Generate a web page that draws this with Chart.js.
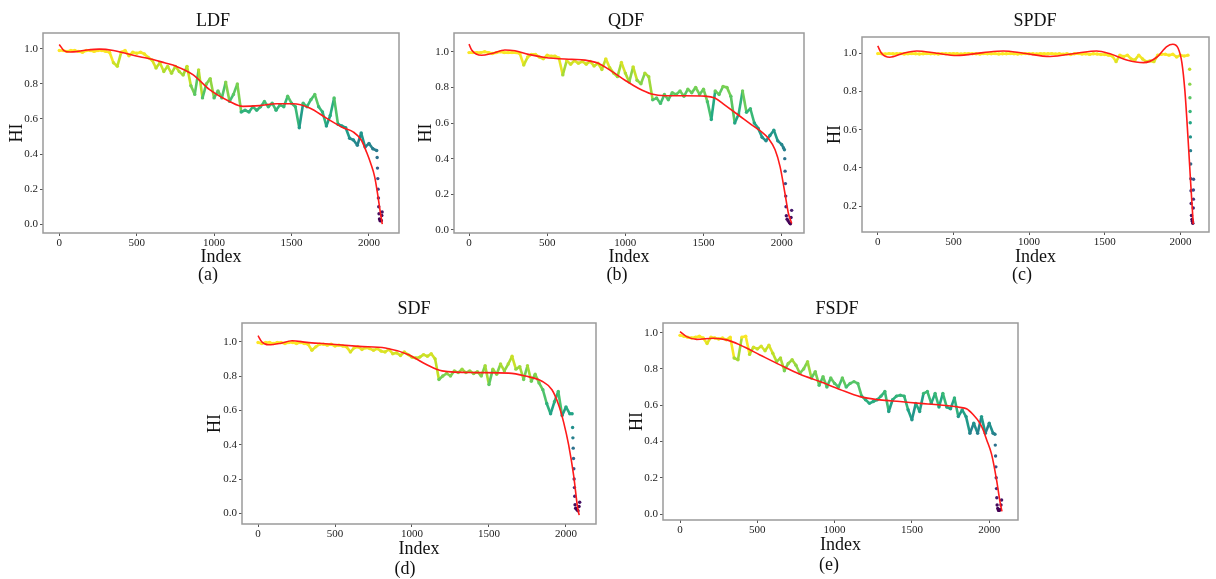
<!DOCTYPE html>
<html>
<head>
<meta charset="utf-8">
<script src="https://cdn.jsdelivr.net/npm/chart.js@4.4.1/dist/chart.umd.min.js"></script>
<style>
body{margin:0;background:#fff;font-family:"Liberation Serif","Times New Roman",serif;}
#page{position:relative;width:1216px;height:579px;overflow:hidden;background:#fff;}
.cv{position:absolute;}
.lbl{position:absolute;transform:translate(-50%,-50%);font-size:18px;color:#111;white-space:nowrap;line-height:1;}
</style>
</head>
<body>
<div id="page"></div>
<script>
"use strict";

// sample index (every 25 points) shared by the main part of each HI curve
let IDX=[0,25,50,75,100,125,150,175,200,225,250,275,300,325,350,375,400,425,450,475,
500,525,550,575,600,625,650,675,700,725,750,775,800,825,850,875,900,925,950,975,
1000,1025,1050,1075,1100,1125,1150,1175,1200,1225,1250,1275,1300,1325,1350,1375,1400,1425,1450,1475,
1500,1525,1550,1575,1600,1625,1650,1675,1700,1725,1750,1775,1800,1825,1850,1875,1900,1925,1950,1975,2000,2025];

let X_TICKS=[0,500,1000,1500,2000];
let Y_TICKS=[0,0.2,0.4,0.6,0.8,1.0];
let Y_TICKS_SPDF=[0.2,0.4,0.6,0.8,1.0];

// LDF
let HI_LDF=[0.99,0.99,0.985,0.99,0.99,0.985,0.98,0.99,0.99,0.985,
0.99,0.99,0.985,0.98,0.92,0.90,0.98,0.99,0.96,0.98,
0.975,0.98,0.97,0.95,0.935,0.89,0.92,0.87,0.90,0.86,
0.90,0.87,0.85,0.90,0.79,0.74,0.88,0.72,0.80,0.83,
0.72,0.76,0.72,0.81,0.70,0.74,0.80,0.64,0.65,0.64,
0.67,0.65,0.67,0.70,0.67,0.69,0.65,0.68,0.67,0.73,
0.69,0.67,0.55,0.69,0.67,0.71,0.74,0.67,0.64,0.56,
0.62,0.72,0.57,0.56,0.55,0.49,0.48,0.45,0.52,0.44,
0.46,0.43];
let TAIL_X_LDF=[2050,2053,2055,2057,2059,2061,2063,2065,2068,2072,2076,2080,2083,2085];
let TAIL_HI_LDF=[0.42,0.38,0.32,0.26,0.20,0.15,0.10,0.06,0.03,0.02,0.025,0.02,0.05,0.07];
let FIT_X_LDF=[0,30,70,110,180,260,350,433,520,605,680,756,863,971,1100,1186,1294,1402,1509,1617,1725,1833,1900,1950,1985,2010,2037,2058,2073,2086];
let FIT_HI_LDF=[1.025,0.99,0.982,0.984,0.993,0.998,0.99,0.973,0.955,0.939,0.92,0.90,0.853,0.767,0.70,0.672,0.676,0.687,0.687,0.663,0.605,0.55,0.525,0.48,0.41,0.35,0.27,0.16,0.07,0.0];

// QDF
let HI_QDF=[0.995,0.995,0.995,0.995,1.0,0.995,0.99,0.995,1.0,0.995,
0.995,0.995,0.995,0.99,0.925,0.97,0.985,0.985,0.97,0.96,
0.98,0.975,0.975,0.965,0.87,0.95,0.93,0.95,0.935,0.945,
0.93,0.945,0.92,0.935,0.90,0.96,0.91,0.88,0.86,0.94,
0.88,0.83,0.915,0.84,0.82,0.88,0.86,0.73,0.74,0.71,
0.76,0.73,0.77,0.76,0.78,0.75,0.79,0.77,0.80,0.76,
0.79,0.72,0.62,0.78,0.76,0.805,0.80,0.75,0.60,0.65,
0.78,0.66,0.68,0.60,0.57,0.52,0.50,0.53,0.56,0.50,
0.48];
let TAIL_X_QDF=[2012,2018,2020,2022,2024,2026,2028,2030,2035,2042,2050,2056,2060,2064];
let TAIL_HI_QDF=[0.46,0.45,0.40,0.33,0.26,0.19,0.13,0.08,0.06,0.05,0.04,0.035,0.07,0.11];
let FIT_X_QDF=[0,17,81,145,230,294,380,486,657,742,827,913,998,1083,1168,1254,1381,1509,1573,1637,1723,1808,1872,1915,1958,1990,2021,2043,2064];
let FIT_HI_QDF=[1.043,1.01,0.98,0.99,1.01,1.005,0.985,0.968,0.957,0.953,0.935,0.89,0.84,0.795,0.763,0.753,0.753,0.751,0.74,0.70,0.645,0.59,0.55,0.514,0.45,0.355,0.206,0.094,0.037];

// SPDF
let HI_SPDF=[0.998,0.997,0.996,0.998,0.997,0.997,0.998,0.996,0.997,0.998,
0.997,0.996,0.997,0.998,0.997,0.997,0.996,0.998,0.997,0.997,
0.998,0.997,0.996,0.997,0.998,0.997,0.997,0.996,0.998,0.997,
0.997,0.998,0.996,0.997,0.997,0.998,0.997,0.996,0.997,0.998,
0.997,0.997,0.996,0.998,0.997,0.997,0.998,0.996,0.997,0.995,
0.997,0.993,0.997,0.998,0.996,0.997,0.994,0.997,0.996,0.993,
0.993,0.99,0.985,0.956,0.99,0.983,0.99,0.97,0.965,0.99,
0.97,0.956,0.96,0.956,0.99,0.995,0.995,0.99,0.995,0.98];
let TAIL_X_SPDF=[2000,2025,2050,2061,2062,2063,2064,2065,2066,2067,2068,2069,2070,2071,2073,2076,2079,2082,2085,2086,2086,2087];
let TAIL_HI_SPDF=[0.99,0.985,0.99,0.916,0.838,0.767,0.695,0.636,0.562,0.49,0.42,0.343,0.28,0.213,0.15,0.13,0.12,0.11,0.19,0.236,0.284,0.34];
let FIT_X_SPDF=[0,25,79,169,257,389,521,697,830,963,1139,1315,1447,1535,1645,1756,1844,1910,1950,1985,2010,2030,2050,2068,2085];
let FIT_HI_SPDF=[1.038,1.0,0.979,1.0,1.012,1.0,0.988,1.003,1.012,1.0,0.983,1.0,1.012,0.997,0.965,0.951,0.979,1.035,1.047,1.026,0.95,0.80,0.56,0.32,0.105];

// SDF
let HI_SDF=[0.995,0.99,0.995,0.995,0.99,0.995,0.995,0.99,0.995,0.995,
0.99,0.995,0.99,0.985,0.95,0.97,0.985,0.985,0.98,0.985,
0.975,0.98,0.975,0.97,0.94,0.965,0.97,0.955,0.965,0.96,
0.95,0.96,0.945,0.94,0.955,0.93,0.935,0.92,0.94,0.925,
0.91,0.905,0.91,0.925,0.915,0.93,0.90,0.78,0.80,0.815,
0.80,0.83,0.82,0.84,0.82,0.83,0.815,0.825,0.80,0.86,
0.75,0.84,0.81,0.87,0.83,0.87,0.915,0.84,0.855,0.78,
0.86,0.77,0.81,0.76,0.72,0.64,0.58,0.65,0.71,0.57,
0.62,0.58];
let TAIL_X_SDF=[2040,2043,2045,2047,2049,2051,2053,2055,2057,2059,2063,2068,2073,2078,2085,2089];
let TAIL_HI_SDF=[0.58,0.50,0.44,0.38,0.32,0.26,0.20,0.15,0.10,0.05,0.03,0.025,0.02,0.015,0.04,0.065];
let FIT_X_SDF=[0,24,69,143,221,316,437,654,827,978,1087,1195,1411,1628,1736,1844,1909,1953,1985,2017,2050,2076,2086];
let FIT_HI_SDF=[1.035,1.0,0.982,0.99,1.006,0.996,0.988,0.973,0.963,0.924,0.87,0.83,0.82,0.817,0.80,0.77,0.72,0.63,0.53,0.40,0.22,0.03,-0.01];

// FSDF
let HI_FSDF=[0.985,0.98,0.975,0.97,0.975,0.98,0.97,0.94,0.975,0.97,
0.965,0.97,0.96,0.975,0.86,0.85,0.975,0.98,0.88,0.92,
0.91,0.925,0.90,0.93,0.886,0.84,0.86,0.79,0.83,0.85,
0.82,0.776,0.80,0.84,0.75,0.785,0.71,0.757,0.70,0.75,
0.72,0.70,0.75,0.70,0.72,0.73,0.72,0.65,0.63,0.61,
0.62,0.63,0.65,0.675,0.565,0.63,0.65,0.655,0.65,0.575,
0.52,0.61,0.565,0.665,0.675,0.61,0.665,0.59,0.665,0.59,
0.58,0.64,0.537,0.574,0.537,0.445,0.50,0.445,0.537,0.445,
0.50,0.445];
let TAIL_X_FSDF=[2037,2039,2041,2043,2045,2047,2049,2051,2055,2060,2065,2070,2076,2080];
let TAIL_HI_FSDF=[0.44,0.38,0.32,0.26,0.20,0.14,0.09,0.05,0.03,0.02,0.02,0.025,0.05,0.077];
let FIT_X_FSDF=[0,43,108,216,302,388,517,647,776,905,1034,1164,1293,1422,1552,1681,1810,1853,1897,1940,1960,1983,2015,2047,2069,2082];
let FIT_HI_FSDF=[1.005,0.978,0.963,0.969,0.96,0.932,0.877,0.822,0.77,0.73,0.687,0.647,0.629,0.62,0.61,0.601,0.588,0.58,0.547,0.50,0.465,0.41,0.33,0.19,0.07,0.015];

let VIRIDIS=["#440154","#482475","#414487","#355f8d","#2a788e","#21918c","#22a884","#44bf70","#7ad151","#bddf26","#fde725"];
let AXIS_FONT=18, TICK_FONT=11, FONT="'Liberation Serif','Times New Roman',serif";

// frame = [left, top, right, bottom] of the axes box on the page
let panels=[
    {name:"LDF", tag:"(a)", hi:HI_LDF, tx:TAIL_X_LDF, th:TAIL_HI_LDF, fx:FIT_X_LDF, fh:FIT_HI_LDF, yTicks:Y_TICKS,
     xMin:-105, xMax:2194, yMin:-0.05, yMax:1.09, frame:[43,33,399,233], hiX:17, indexY:257.5, title:[213,20], tagPos:[208,274]},
    {name:"QDF", tag:"(b)", hi:HI_QDF, tx:TAIL_X_QDF, th:TAIL_HI_QDF, fx:FIT_X_QDF, fh:FIT_HI_QDF, yTicks:Y_TICKS,
     xMin:-96, xMax:2143, yMin:-0.017, yMax:1.105, frame:[454,33,804,233], hiX:426, indexY:257.5, title:[626,20], tagPos:[617,274]},
    {name:"SPDF", tag:"(c)", hi:HI_SPDF, tx:TAIL_X_SPDF, th:TAIL_HI_SPDF, fx:FIT_X_SPDF, fh:FIT_HI_SPDF, yTicks:Y_TICKS_SPDF,
     xMin:-104, xMax:2189, yMin:0.064, yMax:1.085, frame:[862,37,1209,232], hiX:835, indexY:257.5, title:[1035,20], tagPos:[1022,274]},
    {name:"SDF", tag:"(d)", hi:HI_SDF, tx:TAIL_X_SDF, th:TAIL_HI_SDF, fx:FIT_X_SDF, fh:FIT_HI_SDF, yTicks:Y_TICKS,
     xMin:-104, xMax:2195, yMin:-0.062, yMax:1.109, frame:[242,323,596,524], hiX:215, indexY:549, title:[414,308], tagPos:[405,568]},
    {name:"FSDF", tag:"(e)", hi:HI_FSDF, tx:TAIL_X_FSDF, th:TAIL_HI_FSDF, fx:FIT_X_FSDF, fh:FIT_HI_FSDF, yTicks:Y_TICKS,
     xMin:-110, xMax:2186, yMin:-0.033, yMax:1.053, frame:[663,323,1018,520], hiX:637, indexY:545, title:[837,308], tagPos:[829,564]}
];

function hexToRgb(h){ return [parseInt(h.substr(1,2),16),parseInt(h.substr(3,2),16),parseInt(h.substr(5,2),16)]; }

function viridis(t) {
    t=Math.max(0,Math.min(1,t));
    let p=t*10, i=Math.min(9,Math.floor(p)), f=p-i;
    let a=hexToRgb(VIRIDIS[i]), b=hexToRgb(VIRIDIS[i+1]);
    return "rgb("+Math.round(a[0]+(b[0]-a[0])*f)+","+Math.round(a[1]+(b[1]-a[1])*f)+","+Math.round(a[2]+(b[2]-a[2])*f)+")";
}

let framePlugin={
    id:"frame",
    afterDatasetsDraw(chart){
        let a=chart.chartArea, ctx=chart.ctx;
        ctx.save();
        ctx.strokeStyle="#9a9a9a";
        ctx.lineWidth=1.5;
        ctx.strokeRect(a.left,a.top,a.right-a.left,a.bottom-a.top);
        ctx.restore();
    }
};

function addLabel(text, pos) {
    let d=document.createElement("div");
    d.className="lbl";
    d.textContent=text;
    d.style.left=pos[0]+"px";
    d.style.top=pos[1]+"px";
    document.getElementById("page").appendChild(d);
}

function makePanel(p) {
    let half=AXIS_FONT*1.2/2, padTop=10, padRight=8;
    let L=Math.round(p.hiX-half), T=p.frame[1]-padTop, R=p.frame[2]+padRight, B=Math.round(p.indexY+half);
    let cv=document.createElement("canvas");
    cv.className="cv";
    cv.width=R-L; cv.height=B-T;
    cv.style.left=L+"px"; cv.style.top=T+"px";
    cv.style.width=(R-L)+"px"; cv.style.height=(B-T)+"px";
    document.getElementById("page").appendChild(cv);

    let xs=IDX.slice(0,p.hi.length).concat(p.tx);
    let ys=p.hi.concat(p.th);
    let lo=Math.min.apply(null,ys), hi=Math.max.apply(null,ys);
    let col=v => viridis((v-lo)/(hi-lo));
    let pts=xs.map((x,i)=>({x:x,y:ys[i]}));
    let fit=p.fx.map((x,i)=>({x:x,y:p.fh[i]}));

    new Chart(cv,{
        type:"scatter",
        data:{datasets:[
            {label:"fit", data:fit, showLine:true, borderColor:"#ff1a1a", borderWidth:1.6, pointRadius:0,
             cubicInterpolationMode:"monotone", fill:false},
            {label:"HI", data:pts, showLine:true, borderWidth:2.6,
             pointRadius:1.7, pointBorderWidth:0, pointBackgroundColor:ys.map(col),
             segment:{borderColor:c => (c.p1.parsed.x-c.p0.parsed.x<12) ? "rgba(0,0,0,0)" : col(c.p0.parsed.y)}}
        ]},
        options:{
            responsive:false, animation:false, devicePixelRatio:1,
            layout:{padding:{left:0,top:padTop,right:padRight,bottom:0}},
            plugins:{legend:{display:false}, tooltip:{enabled:false}},
            scales:{
                x:{type:"linear", min:p.xMin, max:p.xMax,
                   afterBuildTicks:s => { s.ticks=X_TICKS.map(v=>({value:v})); },
                   afterFit:s => { s.height=B-p.frame[3]; },
                   grid:{drawOnChartArea:false, drawTicks:true, tickLength:3, color:"#555"},
                   border:{display:false},
                   ticks:{padding:1, maxRotation:0, color:"#222", font:{family:FONT,size:TICK_FONT}, callback:v => String(v)},
                   title:{display:true, text:"Index", color:"#111", padding:0, font:{family:FONT,size:AXIS_FONT}}},
                y:{type:"linear", min:p.yMin, max:p.yMax,
                   afterBuildTicks:s => { s.ticks=p.yTicks.map(v=>({value:v})); },
                   afterFit:s => { s.width=p.frame[0]-L; },
                   grid:{drawOnChartArea:false, drawTicks:true, tickLength:3, color:"#555"},
                   border:{display:false},
                   ticks:{padding:2, color:"#222", font:{family:FONT,size:TICK_FONT}, callback:v => v.toFixed(1)},
                   title:{display:true, text:"HI", color:"#111", padding:0, font:{family:FONT,size:AXIS_FONT}}}
            }
        },
        plugins:[framePlugin]
    });

    addLabel(p.name, p.title);
    addLabel(p.tag, p.tagPos);
}

panels.forEach(makePanel);
</script>
</body>
</html>
